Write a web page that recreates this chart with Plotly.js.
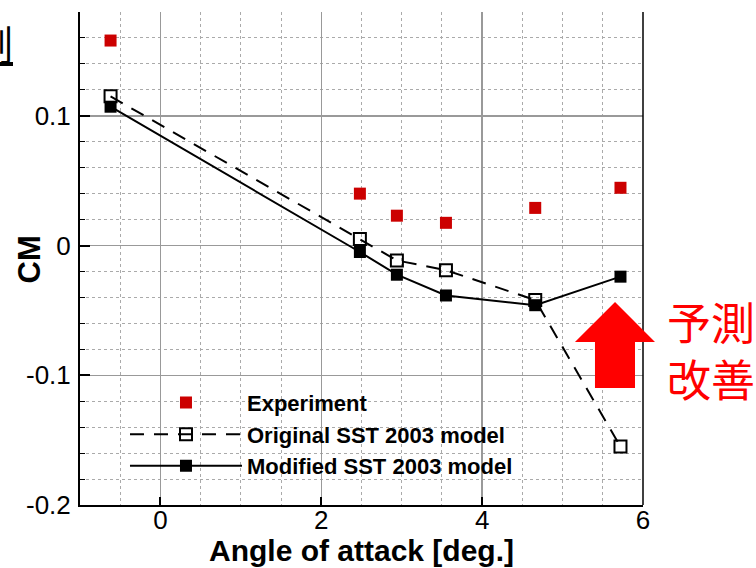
<!DOCTYPE html>
<html>
<head>
<meta charset="utf-8">
<script src="https://cdn.plot.ly/plotly-3.0.1.min.js"></script>
<style>html,body{margin:0;padding:0;background:#fff;}#chart{width:756px;height:568px;}</style>
</head>
<body>
<div id="chart"></div>
<script>
// Data
const alpha = [-0.62, 2.48, 2.94, 3.55, 4.66, 5.72];
const cmExperiment = [0.158, 0.040, 0.023, 0.0175, 0.029, 0.0445];
const cmOriginal = [0.115, 0.005, -0.0115, -0.019, -0.042, -0.155];
const cmModified = [0.107, -0.005, -0.0225, -0.0385, -0.046, -0.024];
const seriesNames = ["Experiment", "Original SST 2003 model", "Modified SST 2003 model"];
const xTickVals = [0, 2, 4, 6];
const xTickText = ["0", "2", "4", "6"];
const yTickVals = [-0.2, -0.1, 0, 0.1];
const yTickText = ["-0.2", "-0.1", "0", "0.1"];

const traces = [
  {x: alpha, y: cmExperiment, name: seriesNames[0], mode: "markers", legendgroup: "a",
   marker: {symbol: "square", size: 12, color: "#cc0000"}},
  {x: alpha, y: cmOriginal, name: seriesNames[1], mode: "lines+markers", legendgroup: "b",
   line: {color: "#000", width: 2, dash: "14px,10px"},
   marker: {symbol: "square-open", size: 12, color: "#000", line: {width: 2, color: "#000"}}},
  {x: alpha, y: cmModified, name: seriesNames[2], mode: "lines+markers", legendgroup: "c",
   line: {color: "#000", width: 2},
   marker: {symbol: "square", size: 12, color: "#000"}}
];

const font = "Liberation Sans, Arial, sans-serif";
const cjk = "Noto Sans CJK JP, sans-serif";

const layout = {
  width: 756, height: 568,
  margin: {l: 80, r: 113, t: 12, b: 63},
  paper_bgcolor: "#fff", plot_bgcolor: "#fff",
  font: {family: font, color: "#000"},
  showlegend: true,
  legend: {x: 0.0799, y: 0.25, xanchor: "left", yanchor: "top", bgcolor: "rgba(0,0,0,0)",
           font: {size: 22, family: font, weight: "bold", color: "#000"},
           itemwidth: 112, tracegroupgap: 0},
  xaxis: {
    range: [-1, 6], tickvals: xTickVals, ticktext: xTickText,
    ticks: "inside", ticklen: 8, tickwidth: 2, tickcolor: "#000",
    showline: true, linecolor: "#000", linewidth: 2,
    showgrid: true, gridcolor: "#999", gridwidth: 1.5,
    zeroline: false,
    tickfont: {size: 26, family: font},
    ticklabelstandoff: -9,
    minor: {dtick: 0.5, showgrid: true, gridcolor: "#aaa", griddash: "dot", gridwidth: 1, ticks: ""}
  },
  yaxis: {
    range: [-0.2, 0.18], tickvals: yTickVals, ticktext: yTickText,
    ticks: "inside", ticklen: 10, tickwidth: 2, tickcolor: "#000",
    showline: true, linecolor: "#000", linewidth: 2,
    showgrid: true, gridcolor: "#999", gridwidth: 1.5,
    zeroline: false,
    tickfont: {size: 26, family: font},
    ticklabelstandoff: 2,
    minor: {dtick: 0.02, tick0: 0, showgrid: true, gridcolor: "#aaa", griddash: "dot", gridwidth: 1,
            ticks: "inside", ticklen: 5, tickcolor: "#000", tickwidth: 1}
  },
  shapes: [
    {type: "line", xref: "paper", yref: "paper", x0: 1, x1: 1, y0: 0, y1: 1,
     line: {color: "#000", width: 1.5}},
    {type: "path", xref: "paper", yref: "paper",
     path: "M0.9503,0.4118 L1.0213,0.3306 L0.9858,0.3306 L0.9858,0.2373 L0.9147,0.2373 L0.9147,0.3306 L0.8792,0.3306 Z",
     fillcolor: "#ff0000", line: {width: 0}}
  ],
  annotations: [
    {xref: "paper", yref: "paper", x: 0.5, y: -0.0933, xanchor: "center", yanchor: "middle",
     showarrow: false, text: "<b>Angle of attack [deg.]</b>", font: {size: 30, family: font, color: "#000"}},
    {xref: "paper", yref: "paper", x: -0.0906, y: 0.498, xanchor: "center", yanchor: "middle",
     textangle: -90, showarrow: false, text: "<b>CM</b>", font: {size: 31, family: font, color: "#000"}},
    {xref: "paper", yref: "paper", x: -0.1155, y: 0.937, xanchor: "right", yanchor: "middle",
     showarrow: false, text: "<u>予測</u>", font: {size: 40, family: cjk, color: "#000"}},
    {xref: "paper", yref: "paper", x: 1.121, y: 0.316, xanchor: "center", yanchor: "middle",
     showarrow: false, text: "予測<br>改善", font: {size: 44, family: cjk, color: "#ff0000"}}
  ]
};

Plotly.newPlot("chart", traces, layout, {displayModeBar: false, staticPlot: true});
</script>
</body>
</html>
